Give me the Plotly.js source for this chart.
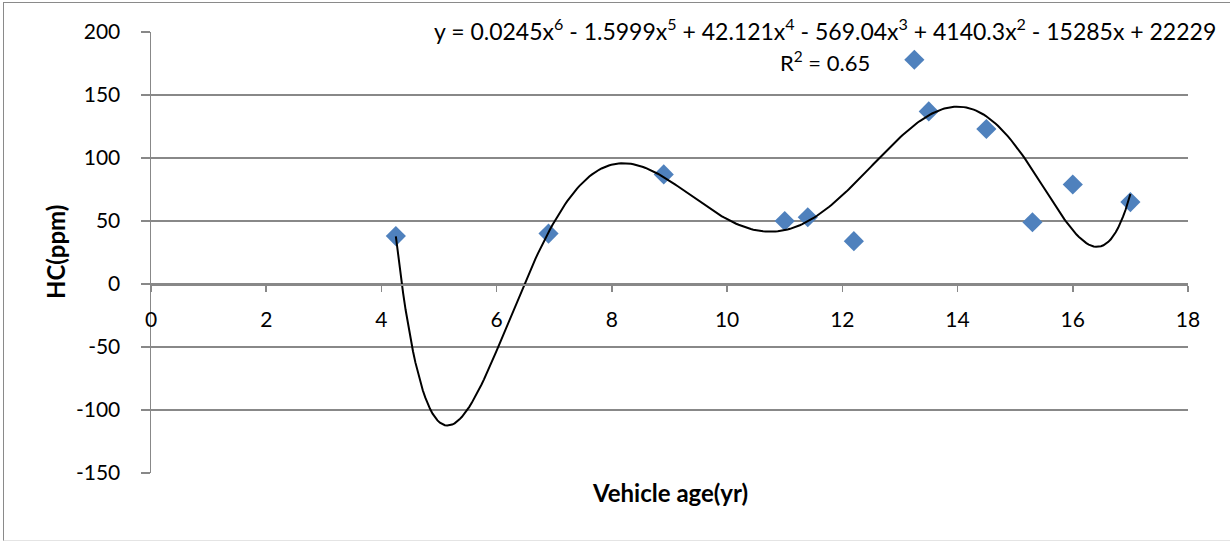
<!DOCTYPE html>
<html>
<head>
<meta charset="utf-8">
<script src="https://cdn.plot.ly/plotly-3.0.1.min.js"></script>
<style>
  html, body { margin: 0; padding: 0; background: #ffffff; }
  #wrap { position: relative; width: 1230px; height: 542px; overflow: hidden; }
  #chart { width: 1230px; height: 542px; }
  #frame {
    position: absolute; left: 3px; top: 2px; width: 1240px; height: 537px;
    border-left: 1.5px solid #8a8a8a; border-top: 1.5px solid #8a8a8a;
    border-bottom: 1.5px solid #e4e4e4; pointer-events: none;
  }
</style>
</head>
<body>
<div id="wrap">
  <div id="chart"></div>
  <div id="frame"></div>
</div>
<script>
// Vehicle age (years) and measured HC concentration (ppm)
const vehicleAge = [4.25, 6.9, 8.9, 11.0, 11.4, 12.2, 13.25, 13.5, 14.5, 15.3, 16.0, 17.0];
const hcPpm      = [38, 40, 87, 50, 53, 34, 178, 137, 123, 49, 79, 65];

// Axis ticks (labels written with a plain hyphen for negatives)
const xTicks = [0, 2, 4, 6, 8, 10, 12, 14, 16, 18];
const yTicks = [-150, -100, -50, 0, 50, 100, 150, 200];
const yTickText = ['-150', '-100', '-50', '0', '50', '100', '150', '200'];

// Trendline label as printed on the chart
const trendEquation = 'y = 0.0245x<sup>6</sup> - 1.5999x<sup>5</sup> + 42.121x<sup>4</sup> - 569.04x<sup>3</sup> + 4140.3x<sup>2</sup> - 15285x + 22229';
const trendR2 = 'R<sup>2</sup> = 0.65';
const polyOrder = 6;

// Least-squares polynomial fit on a centred/scaled x to keep the system well conditioned
function polyFit(xs, ys, order) {
  const mid = (Math.min(...xs) + Math.max(...xs)) / 2;
  const half = (Math.max(...xs) - Math.min(...xs)) / 2;
  const n = order + 1;
  const A = Array.from({length: n}, () => new Array(n + 1).fill(0));
  xs.forEach((x, k) => {
    const t = (x - mid) / half;
    const pw = [];
    for (let i = 0; i < n; i++) pw.push(Math.pow(t, i));
    for (let i = 0; i < n; i++) {
      for (let j = 0; j < n; j++) A[i][j] += pw[i] * pw[j];
      A[i][n] += pw[i] * ys[k];
    }
  });
  for (let c = 0; c < n; c++) {
    let p = c;
    for (let r = c + 1; r < n; r++) if (Math.abs(A[r][c]) > Math.abs(A[p][c])) p = r;
    [A[c], A[p]] = [A[p], A[c]];
    for (let r = 0; r < n; r++) {
      if (r === c) continue;
      const f = A[r][c] / A[c][c];
      for (let j = c; j <= n; j++) A[r][j] -= f * A[c][j];
    }
  }
  const coef = A.map((row, i) => row[n] / row[i]);
  return x => {
    const t = (x - mid) / half;
    let s = 0;
    for (let i = n - 1; i >= 0; i--) s = s * t + coef[i];
    return s;
  };
}

const trendFn = polyFit(vehicleAge, hcPpm, polyOrder);
const xMin = Math.min(...vehicleAge), xMax = Math.max(...vehicleAge);
const trendX = [], trendY = [];
for (let i = 0; i <= 300; i++) {
  const x = xMin + (xMax - xMin) * i / 300;
  trendX.push(x);
  trendY.push(trendFn(x));
}

const FONT = 'Lato, "Open Sans", sans-serif';
const GRID = '#888888';
const yRange = [-150, 200];
const TICK_SIZE = 21;

const traces = [
  {
    x: vehicleAge, y: hcPpm, type: 'scatter', mode: 'markers',
    marker: {symbol: 'diamond', size: 15.5, color: '#4f81bd', line: {width: 0}},
    cliponaxis: false, hoverinfo: 'x+y'
  },
  {
    x: trendX, y: trendY, type: 'scatter', mode: 'lines',
    line: {color: '#000000', width: 2}, hoverinfo: 'skip'
  }
];

const layout = {
  width: 1230, height: 542,
  margin: {l: 151, r: 42, t: 32, b: 69},
  paper_bgcolor: '#ffffff', plot_bgcolor: '#ffffff',
  showlegend: false,
  font: {family: FONT, size: TICK_SIZE, color: '#000000'},
  xaxis: {
    range: [0, 18], tickmode: 'array', tickvals: xTicks,
    showgrid: false, zeroline: false,
    showline: true, linecolor: GRID, linewidth: 1.5,
    anchor: 'free', position: (0 - yRange[0]) / (yRange[1] - yRange[0]),
    ticks: 'outside', ticklen: 6, tickwidth: 1.5, tickcolor: GRID,
    ticklabelstandoff: 10,
    tickfont: {family: FONT, size: TICK_SIZE, color: '#000000'}
  },
  yaxis: {
    range: yRange, tickmode: 'array', tickvals: yTicks, ticktext: yTickText,
    showgrid: true, gridcolor: GRID, gridwidth: 1.5,
    zeroline: false,
    showline: true, linecolor: GRID, linewidth: 1.5,
    ticks: 'outside', ticklen: 9, tickwidth: 1.5, tickcolor: GRID,
    ticklabelstandoff: 16,
    tickfont: {family: FONT, size: TICK_SIZE, color: '#000000'}
  },
  annotations: [
    {text: trendEquation, xref: 'x', yref: 'paper', x: 11.7, y: 1.005,
     xanchor: 'center', yanchor: 'middle', showarrow: false,
     font: {family: FONT, size: 23, color: '#000000'}},
    {text: trendR2, xref: 'x', yref: 'paper', x: 11.7, y: 0.934,
     xanchor: 'center', yanchor: 'middle', showarrow: false,
     font: {family: FONT, size: 22, color: '#000000'}},
    {text: '<b>HC(ppm)</b>', xref: 'paper', yref: 'paper', x: -0.092, y: 0.5,
     xanchor: 'center', yanchor: 'middle', textangle: -90, showarrow: false,
     font: {family: FONT, size: 24, color: '#000000'}},
    {text: '<b>Vehicle age(yr)</b>', xref: 'paper', yref: 'paper', x: 0.5, y: -0.045,
     xanchor: 'center', yanchor: 'middle', showarrow: false,
     font: {family: FONT, size: 24, color: '#000000'}}
  ]
};

Plotly.newPlot('chart', traces, layout, {displayModeBar: false, staticPlot: true});
</script>
</body>
</html>
